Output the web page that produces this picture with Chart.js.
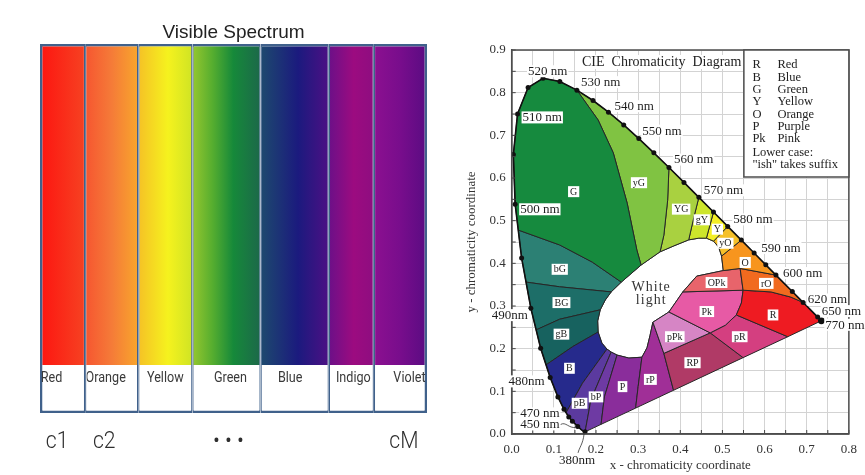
<!DOCTYPE html>
<html>
<head>
<meta charset="utf-8">
<title>Visible spectrum and CIE chromaticity diagram</title>
<script src="https://cdn.jsdelivr.net/npm/chart.js@4.4.1/dist/chart.umd.min.js"></script>
<style>
  html, body { margin: 0; background: #fff; }
  #page { position: relative; width: 865px; height: 475px; overflow: hidden; }
  canvas { position: absolute; }
</style>
</head>
<body>
<div id="page">
  <canvas id="bands" width="440" height="365" style="left:0;top:0;width:440px;height:365px"></canvas>
  <canvas id="names" width="440" height="110" style="left:0;top:365px;width:440px;height:110px"></canvas>
  <canvas id="cie" width="425" height="475" style="left:440px;top:0;width:425px;height:475px"></canvas>
</div>
<script>
// ---- left panel: the seven colour bands ----
const bandNames = ['Red', 'Orange', 'Yellow', 'Green', 'Blue', 'Indigo', 'Violet'];
const bandWidths = [45, 53, 54, 68, 68, 45, 53];
const channelLabels = ['c1', 'c2', '', '\u2022 \u2022 \u2022', '', '', 'cM'];

// ---- right panel: CIE 1931 spectral locus ----
const locusNm = [380, 400, 420, 440, 450, 460, 465, 470, 475, 480, 485, 490, 495, 500,
  505, 510, 515, 520, 525, 530, 535, 540, 545, 550, 555, 560, 565, 570, 575, 580, 585,
  590, 595, 600, 605, 610, 615, 620, 625, 630, 640, 650, 660, 680, 770];
const locusX = [0.1741, 0.1733, 0.1714, 0.1644, 0.1566, 0.1440, 0.1355, 0.1241, 0.1096, 0.0913,
  0.0687, 0.0454, 0.0235, 0.0082, 0.0039, 0.0139, 0.0389, 0.0743, 0.1142, 0.1547, 0.1929,
  0.2296, 0.2658, 0.3016, 0.3373, 0.3731, 0.4087, 0.4441, 0.4788, 0.5125, 0.5448, 0.5752,
  0.6029, 0.6270, 0.6482, 0.6658, 0.6801, 0.6915, 0.7006, 0.7079, 0.7190, 0.7260, 0.7300,
  0.7334, 0.7347];
const locusY = [0.0050, 0.0048, 0.0051, 0.0109, 0.0177, 0.0297, 0.0399, 0.0578, 0.0868, 0.1327,
  0.2007, 0.2950, 0.4127, 0.5384, 0.6548, 0.7502, 0.8120, 0.8338, 0.8262, 0.8059, 0.7816,
  0.7543, 0.7243, 0.6923, 0.6589, 0.6245, 0.5896, 0.5547, 0.5202, 0.4866, 0.4544, 0.4242,
  0.3965, 0.3725, 0.3514, 0.3340, 0.3197, 0.3083, 0.2993, 0.2920, 0.2809, 0.2740, 0.2700,
  0.2666, 0.2653];
const markedNm = [380, 450, 460, 465, 470, 475, 480, 485, 490, 495, 500, 505, 510, 515, 520,
  525, 530, 535, 540, 545, 550, 555, 560, 565, 570, 575, 580, 585, 590, 595, 600, 610, 620, 650, 770];
const nmTags = [520, 530, 540, 550, 560, 570, 580, 590, 600, 620, 650, 770, 510, 500, 490, 480, 470, 450, 380];
const nmTagText = ['520 nm', '530 nm', '540 nm', '550 nm', '560 nm', '570 nm', '580 nm', '590 nm',
  '600 nm', '620 nm', '650 nm', '770 nm', '510 nm', '500 nm', '490nm', '480nm', '470 nm', '450 nm', '380nm'];

// colour-name zones (x, y chromaticity corners)
const zoneWhite = [[0.498, 0.417], [0.502, 0.383], [0.439, 0.370], [0.406, 0.333], [0.373, 0.286],
  [0.335, 0.262], [0.328, 0.230], [0.321, 0.202], [0.309, 0.180], [0.278, 0.178], [0.250, 0.185],
  [0.236, 0.192], [0.226, 0.199], [0.214, 0.213], [0.205, 0.239], [0.204, 0.265], [0.210, 0.291],
  [0.222, 0.314], [0.236, 0.333], [0.260, 0.356], [0.307, 0.396], [0.352, 0.427], [0.385, 0.441],
  [0.420, 0.455], [0.444, 0.459], [0.462, 0.459], [0.479, 0.452], [0.491, 0.438]];
const zoneG = [[0.0156, 0.478], [0.0082, 0.5384], [0.0039, 0.6548], [0.0139, 0.7502], [0.0389, 0.812],
  [0.0743, 0.8338], [0.1142, 0.8262], [0.1547, 0.8059], [0.205, 0.736], [0.241, 0.659], [0.274, 0.541],
  [0.297, 0.431], [0.307, 0.396], [0.260, 0.356], [0.191, 0.403], [0.114, 0.443]];
const zone_yG = [[0.1547, 0.8059], [0.1929, 0.7816], [0.2296, 0.7543], [0.2658, 0.7243], [0.3016, 0.6923],
  [0.3373, 0.6589], [0.3731, 0.6245], [0.370, 0.548], [0.361, 0.466], [0.352, 0.427], [0.307, 0.396],
  [0.297, 0.431], [0.274, 0.541], [0.241, 0.659], [0.205, 0.736]];
const zoneYG = [[0.3731, 0.6245], [0.4087, 0.5896], [0.4441, 0.5547], [0.432, 0.507], [0.420, 0.455],
  [0.385, 0.441], [0.352, 0.427], [0.361, 0.466], [0.370, 0.548]];
const zone_gY = [[0.4441, 0.5547], [0.4788, 0.5202], [0.462, 0.459], [0.444, 0.459], [0.420, 0.455], [0.432, 0.507]];
const zoneY = [[0.4788, 0.5202], [0.5125, 0.4866], [0.479, 0.452], [0.462, 0.459]];
const zone_yO = [[0.5125, 0.4866], [0.5448, 0.4544], [0.498, 0.417], [0.491, 0.438], [0.479, 0.452]];
const zoneO = [[0.5448, 0.4544], [0.5752, 0.4242], [0.6029, 0.3965], [0.627, 0.3725], [0.542, 0.388],
  [0.502, 0.383], [0.498, 0.417]];
const zone_rO = [[0.627, 0.3725], [0.6482, 0.3514], [0.6658, 0.334], [0.6801, 0.3197], [0.6915, 0.3083],
  [0.662, 0.321], [0.615, 0.333], [0.549, 0.337], [0.542, 0.388]];
const zoneR = [[0.549, 0.337], [0.615, 0.333], [0.662, 0.321], [0.6915, 0.3083], [0.7006, 0.2993],
  [0.7079, 0.292], [0.719, 0.2809], [0.726, 0.274], [0.73, 0.27], [0.7334, 0.2666], [0.7347, 0.2653],
  [0.655, 0.228], [0.533, 0.279], [0.545, 0.307]];
const zoneOPk = [[0.439, 0.370], [0.502, 0.383], [0.542, 0.388], [0.549, 0.337], [0.406, 0.333]];
const zonePk = [[0.373, 0.286], [0.406, 0.333], [0.549, 0.337], [0.545, 0.307], [0.533, 0.279],
  [0.507, 0.255], [0.471, 0.237]];
const zone_pR = [[0.471, 0.237], [0.507, 0.255], [0.533, 0.279], [0.655, 0.228], [0.549, 0.179]];
const zone_pPk = [[0.373, 0.286], [0.335, 0.262], [0.361, 0.189], [0.471, 0.237]];
const zoneRP = [[0.361, 0.189], [0.471, 0.237], [0.549, 0.179], [0.384, 0.1025]];
const zone_rP = [[0.294, 0.0607], [0.384, 0.1025], [0.361, 0.189], [0.335, 0.262], [0.328, 0.230],
  [0.321, 0.202], [0.309, 0.180], [0.300, 0.111]];
const zoneP = [[0.212, 0.0226], [0.294, 0.0607], [0.300, 0.111], [0.309, 0.180], [0.278, 0.178],
  [0.250, 0.185], [0.220, 0.087]];
const zone_bP = [[0.1741, 0.005], [0.212, 0.0226], [0.220, 0.087], [0.250, 0.185], [0.236, 0.192], [0.188, 0.080]];
const zone_pB = [[0.129, 0.050], [0.1355, 0.0399], [0.144, 0.0297], [0.1566, 0.0177], [0.1644, 0.0109],
  [0.1714, 0.0051], [0.1733, 0.0048], [0.1741, 0.005], [0.188, 0.080], [0.236, 0.192], [0.226, 0.199], [0.168, 0.119]];
const zoneB = [[0.129, 0.050], [0.1241, 0.0578], [0.1096, 0.0868], [0.0913, 0.1327], [0.0816, 0.162],
  [0.145, 0.205], [0.205, 0.239], [0.214, 0.213], [0.226, 0.199], [0.168, 0.119]];
const zone_gB = [[0.0816, 0.162], [0.0687, 0.2007], [0.058, 0.244], [0.114, 0.269], [0.210, 0.291],
  [0.204, 0.265], [0.205, 0.239], [0.145, 0.205]];
const zoneBG = [[0.058, 0.244], [0.0454, 0.295], [0.034, 0.356], [0.114, 0.345], [0.236, 0.333],
  [0.222, 0.314], [0.210, 0.291], [0.114, 0.269]];
const zone_bG = [[0.034, 0.356], [0.0235, 0.4127], [0.0156, 0.478], [0.114, 0.443], [0.191, 0.403],
  [0.260, 0.356], [0.236, 0.333], [0.114, 0.345]];

const zoneNames = ['G', 'yG', 'YG', 'gY', 'Y', 'yO', 'O', 'rO', 'R', 'OPk', 'Pk', 'pR', 'pPk', 'RP',
  'rP', 'P', 'bP', 'pB', 'B', 'gB', 'BG', 'bG'];
const zoneShapes = [zoneG, zone_yG, zoneYG, zone_gY, zoneY, zone_yO, zoneO, zone_rO, zoneR, zoneOPk,
  zonePk, zone_pR, zone_pPk, zoneRP, zone_rP, zoneP, zone_bP, zone_pB, zoneB, zone_gB, zoneBG, zone_bG];

const keyCodes = ['R', 'B', 'G', 'Y', 'O', 'P', 'Pk'];
const keyNames = ['Red', 'Blue', 'Green', 'Yellow', 'Orange', 'Purple', 'Pink'];
const keyNote = ['Lower case:', '"ish" takes suffix'];

// ---- styles and layout ----
const frameColor = '#40618b';
const bandStops = [
  [[0, '#fd1510'], [1, '#f64222']],
  [[0, '#f65530'], [0.5, '#f57b38'], [1, '#f8a62c']],
  [[0, '#f5c126'], [0.55, '#f5f21e'], [1, '#cfe424']],
  [[0, '#95c72e'], [0.3, '#55ad2f'], [0.6, '#16893a'], [1, '#1c684a']],
  [[0, '#1d4a6e'], [0.55, '#1b1a7e'], [1, '#4c1084']],
  [[0, '#6b1088'], [0.55, '#9c0b80'], [1, '#8e0d80']],
  [[0, '#8c1090'], [0.5, '#780d8c'], [1, '#5a0c82']]
];
const nameShift = [-11, -6, 0, 4, -4.5, 2, 9];     // px from band centre
const channelShift = [-5.5, -7.5, 0, 2, 0, 0, 3.5];
const zoneColors = ['#168a3e', '#80c342', '#a9d140', '#cde52b', '#f4ee25', '#f5c02a', '#f7951e',
  '#f16a1f', '#ee1b22', '#e8646b', '#e75aa5', '#d43f80', '#d685c5', '#b03a66', '#a02f97', '#8a2d9b',
  '#6e3aa3', '#5b3a9f', '#262a8c', '#17625f', '#1d6e68', '#2c8074'];
const zoneLabelAt = {
  G: [0.147, 0.568], yG: [0.302, 0.589], YG: [0.402, 0.527], gY: [0.451, 0.502], Y: [0.488, 0.480],
  yO: [0.507, 0.447], O: [0.554, 0.402], rO: [0.604, 0.353], OPk: [0.486, 0.355], Pk: [0.463, 0.287],
  R: [0.620, 0.279], pR: [0.541, 0.228], pPk: [0.387, 0.228], RP: [0.429, 0.167], rP: [0.329, 0.128],
  P: [0.263, 0.111], bP: [0.200, 0.087], pB: [0.161, 0.072], B: [0.137, 0.154], gB: [0.118, 0.234],
  BG: [0.118, 0.308], bG: [0.114, 0.386]
};
// text offset from the locus dot: dx, dy, alignment
const nmTagOffsets = [[-15, -7, 'left'], [4, -8, 'left'], [6, -6, 'left'], [3.5, -8, 'left'],
  [5, -8, 'left'], [5, -7, 'left'], [5.5, -7, 'left'], [7, -5, 'left'], [7, -2, 'left'],
  [4.5, -3, 'left'], [4, -6, 'left'], [4, 4, 'left'], [5, 3.5, 'left'], [5, 5, 'left'],
  [-3, 7, 'right'], [-5.5, 4, 'right'], [-4.5, 4, 'right'], [-18, -2, 'right'], [-8, 28, 'center']];
const serif = '"Liberation Serif", "Times New Roman", serif';
const sans = 'Roboto, "Liberation Sans", sans-serif';

const totalWidth = bandWidths.reduce((a, b) => a + b, 0);

function bandGradient(chart, i) {
  const xs = chart.scales.x;
  if (!xs || !chart.chartArea) return bandStops[i][0][1];
  const start = bandWidths.slice(0, i).reduce((a, b) => a + b, 0);
  const g = chart.ctx.createLinearGradient(xs.getPixelForValue(start), 0,
    xs.getPixelForValue(start + bandWidths[i]), 0);
  bandStops[i].forEach(s => g.addColorStop(s[0], s[1]));
  return g;
}

function edges(i, top, bottom) {
  return {
    top: top, bottom: bottom,
    left: i === 0 ? 2.5 : 1.25,
    right: i === bandNames.length - 1 ? 2.5 : 1.25
  };
}

const hidden = { legend: { display: false }, tooltip: { enabled: false } };

new Chart(document.getElementById('bands'), {
  type: 'bar',
  data: {
    labels: ['spectrum'],
    datasets: bandNames.map((name, i) => ({
      label: name,
      data: [bandWidths[i]],
      backgroundColor: c => bandGradient(c.chart, i),
      borderColor: frameColor,
      borderWidth: edges(i, 2.5, 0),
      borderSkipped: false,
      inflateAmount: 0,
      barPercentage: 1,
      categoryPercentage: 1
    }))
  },
  options: {
    indexAxis: 'y',
    responsive: false,
    animation: false,
    events: [],
    layout: { padding: { left: 40, right: 13, top: 0, bottom: 0 } },
    plugins: Object.assign({
      title: {
        display: true,
        text: 'Visible Spectrum',
        color: '#222',
        font: { family: '"Liberation Sans", Arial, sans-serif', size: 19, weight: 'normal', lineHeight: 1.2 },
        padding: { top: 21.2, bottom: 0 }
      }
    }, hidden),
    scales: {
      x: { display: false, stacked: true, min: 0, max: totalWidth },
      y: { display: false, stacked: true }
    }
  }
});

// names inside the white strip and the channel labels underneath
const bandText = {
  id: 'bandText',
  afterDatasetsDraw(chart) {
    const ctx = chart.ctx;
    ctx.save();
    ctx.textAlign = 'center';
    ctx.textBaseline = 'middle';
    chart.data.datasets.forEach((ds, i) => {
      const bar = chart.getDatasetMeta(i).data[0];
      const left = Math.min(bar.x, bar.base), right = Math.max(bar.x, bar.base);
      const top = bar.y - bar.height / 2;
      const mid = (left + right) / 2;
      ctx.save();
      ctx.beginPath();
      ctx.rect(left + 1.5, top, right - left - 3, bar.height);
      ctx.clip();
      ctx.translate(mid + nameShift[i], top + 13);
      ctx.scale(0.84, 1);
      ctx.fillStyle = '#3a3a3a';
      ctx.font = '15px ' + sans;
      ctx.fillText(bandNames[i], 0, 0);
      ctx.restore();
      ctx.save();
      ctx.translate(mid + channelShift[i], top + bar.height + 29);
      ctx.scale(0.88, 1);
      ctx.fillStyle = '#2e2e2e';
      ctx.font = '300 24px ' + sans;
      ctx.fillText(channelLabels[i], 0, 0);
      ctx.restore();
    });
    ctx.restore();
  }
};

new Chart(document.getElementById('names'), {
  type: 'bar',
  data: {
    labels: ['names'],
    datasets: bandNames.map((name, i) => ({
      label: name,
      data: [bandWidths[i]],
      backgroundColor: '#ffffff',
      borderColor: frameColor,
      borderWidth: edges(i, 0, 2.5),
      borderSkipped: false,
      inflateAmount: 0,
      barPercentage: 1,
      categoryPercentage: 1
    }))
  },
  options: {
    indexAxis: 'y',
    responsive: false,
    animation: false,
    events: [],
    layout: { padding: { left: 40, right: 13, top: 0, bottom: 62 } },
    plugins: hidden,
    scales: {
      x: { display: false, stacked: true, min: 0, max: totalWidth },
      y: { display: false, stacked: true }
    }
  },
  plugins: [bandText]
});

// ---- CIE diagram ----
const asPoints = shape => shape.concat([shape[0]]).map(p => ({ x: p[0], y: p[1] }));

const zoneSets = zoneShapes.map((shape, i) => ({
  label: zoneNames[i],
  data: asPoints(shape),
  backgroundColor: zoneColors[i],
  borderColor: '#262626',
  borderWidth: 1,
  fill: 'shape',
  pointRadius: 0,
  tension: 0,
  order: 2
}));

const whiteSet = {
  label: 'White light',
  data: asPoints(zoneWhite),
  backgroundColor: '#ffffff',
  borderColor: '#262626',
  borderWidth: 1,
  fill: 'shape',
  pointRadius: 0,
  tension: 0,
  order: 3
};

const locusSet = {
  label: 'spectral locus',
  data: locusNm.map((nm, i) => ({ x: locusX[i], y: locusY[i] })),
  borderColor: '#111',
  borderWidth: 1.6,
  fill: false,
  tension: 0,
  pointRadius: c => {
    const nm = locusNm[c.dataIndex];
    if (nm === 770) return 3.4;
    return markedNm.includes(nm) ? 2.5 : 0;
  },
  pointBackgroundColor: '#111',
  pointBorderWidth: 0,
  order: 0
};

const tickText = v => (Math.round(v * 100) % 10 === 0 ? (Math.round(v * 10) / 10).toFixed(1) : '');

const cieNotes = {
  id: 'cieNotes',
  afterDatasetsDraw(chart) {
    const { ctx, chartArea: a, scales: { x, y } } = chart;
    const px = v => x.getPixelForValue(v), py = v => y.getPixelForValue(v);
    ctx.save();

    // short inward ticks
    ctx.strokeStyle = '#444';
    ctx.lineWidth = 1;
    ctx.beginPath();
    x.ticks.forEach(t => { const X = px(t.value); ctx.moveTo(X, a.bottom); ctx.lineTo(X, a.bottom - 4); });
    y.ticks.forEach(t => { const Y = py(t.value); ctx.moveTo(a.left, Y); ctx.lineTo(a.left + 4, Y); });
    ctx.stroke();

    // frame
    ctx.strokeStyle = '#4d4d4d';
    ctx.lineWidth = 1.5;
    ctx.strokeRect(a.left, a.top, a.width, a.height);

    // title
    ctx.font = '14px ' + serif;
    ctx.textAlign = 'center';
    ctx.textBaseline = 'middle';
    const title = 'CIE  Chromaticity  Diagram';
    const tw = ctx.measureText(title).width;
    const tx = a.left + 150, ty = a.top + 12;
    ctx.fillStyle = '#fff';
    ctx.fillRect(tx - tw / 2 - 2, ty - 7, tw + 4, 14);
    ctx.fillStyle = '#222';
    ctx.fillText(title, tx, ty);

    // key box
    const bw = 105, bh = 127;
    const bx = a.right - bw, by = a.top;
    ctx.fillStyle = '#fff';
    ctx.fillRect(bx, by, bw, bh);
    ctx.strokeStyle = '#4d4d4d';
    ctx.lineWidth = 1.5;
    ctx.strokeRect(bx, by, bw, bh);
    ctx.font = '12.5px ' + serif;
    ctx.textAlign = 'left';
    ctx.fillStyle = '#222';
    keyCodes.forEach((code, k) => {
      const ly = by + 15 + k * 12.35;
      ctx.fillText(code, bx + 8.5, ly);
      ctx.fillText(keyNames[k], bx + 33.5, ly);
    });
    keyNote.forEach((line, k) => {
      ctx.fillText(line, bx + 8.5, by + 15 + (keyCodes.length + k) * 12.35 + 1);
    });

    // zone tags
    ctx.font = '10px ' + serif;
    ctx.textAlign = 'center';
    zoneNames.forEach(name => {
      const p = zoneLabelAt[name];
      const X = px(p[0]), Y = py(p[1]);
      const w = ctx.measureText(name).width + 4;
      ctx.fillStyle = '#fff';
      ctx.fillRect(X - w / 2, Y - 5.5, w, 11);
      ctx.fillStyle = '#222';
      ctx.fillText(name, X, Y + 0.5);
    });

    // white light
    ctx.font = '14px ' + serif;
    ctx.fillStyle = '#333';
    ctx.letterSpacing = '1px';
    ctx.fillText('White', px(0.331), py(0.343));
    ctx.fillText('light', px(0.331), py(0.314));
    ctx.letterSpacing = '0px';

    // wavelength tags
    ctx.font = '13px ' + serif;
    ctx.textAlign = 'left';
    nmTags.forEach((nm, k) => {
      const i = locusNm.indexOf(nm);
      const o = nmTagOffsets[k];
      const dotX = px(locusX[i]), dotY = py(locusY[i]);
      const ax = dotX + o[0], ay = dotY + o[1];
      const w = ctx.measureText(nmTagText[k]).width;
      const left = o[2] === 'left' ? ax : o[2] === 'right' ? ax - w : ax - w / 2;
      ctx.fillStyle = '#fff';
      ctx.fillRect(left - 1, ay - 6, w + 2, 12);
      ctx.fillStyle = '#1e1e1e';
      ctx.fillText(nmTagText[k], left, ay + 0.5);
      if (nm === 450 || nm === 380) {
        ctx.strokeStyle = '#333';
        ctx.lineWidth = 0.8;
        ctx.beginPath();
        if (nm === 450) {
          ctx.moveTo(ax + 1, ay);
          ctx.bezierCurveTo(ax + 6, ay - 3, ax + 9, ay + 4, dotX - 2, dotY + 1);
        } else {
          ctx.moveTo(ax + 1, ay - 7);
          ctx.bezierCurveTo(ax + 2, ay - 12, ax + 6, ay - 16, dotX - 1, dotY + 2);
        }
        ctx.stroke();
      }
    });
    ctx.restore();
  }
};

new Chart(document.getElementById('cie'), {
  type: 'line',
  data: { datasets: [locusSet, whiteSet].concat(zoneSets) },
  options: {
    responsive: false,
    animation: false,
    events: [],
    layout: { padding: { left: 0, top: 50, right: 13.3, bottom: 0 } },
    plugins: hidden,
    scales: {
      x: {
        type: 'linear', min: 0, max: 0.8,
        afterFit: s => { s.height = 41; },
        ticks: { stepSize: 0.05, autoSkip: false, maxRotation: 0, padding: 8, color: '#333',
          font: { family: serif, size: 13 }, callback: tickText },
        grid: { color: '#d3d3d3', drawTicks: false },
        border: { color: '#4d4d4d', width: 1.5 },
        title: { display: true, text: 'x - chromaticity coordinate', color: '#333',
          font: { family: serif, size: 13 }, padding: { top: 0, bottom: 2 } }
      },
      y: {
        type: 'linear', min: 0, max: 0.9,
        afterFit: s => { s.width = 71.7; },
        ticks: { stepSize: 0.05, autoSkip: false, padding: 6, color: '#333',
          font: { family: serif, size: 13 }, callback: tickText },
        grid: { color: '#d3d3d3', drawTicks: false },
        border: { color: '#4d4d4d', width: 1.5 },
        title: { display: true, text: 'y - chromaticity coordinate', color: '#333',
          font: { family: serif, size: 13 }, padding: { top: 24, bottom: 0 } }
      }
    }
  },
  plugins: [cieNotes]
});
</script>
</body>
</html>
